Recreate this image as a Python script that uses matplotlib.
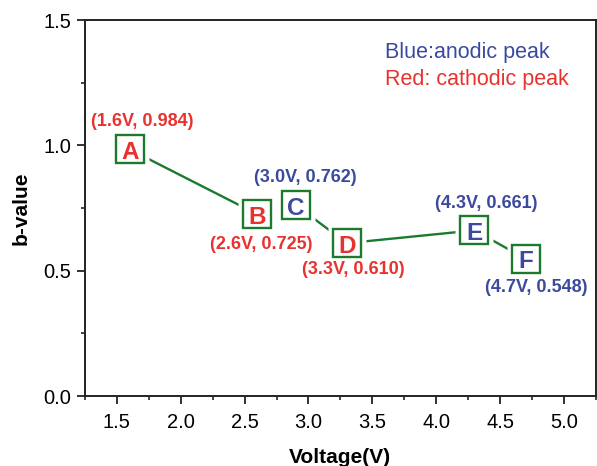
import matplotlib
matplotlib.use("Agg")
import matplotlib.pyplot as plt
from matplotlib.ticker import MultipleLocator

plt.rcParams['font.family'] = ['Liberation Sans', 'DejaVu Sans']

letters = ['A', 'B', 'C', 'D', 'E', 'F']
voltage = [1.6, 2.6, 2.9, 3.3, 4.3, 4.7]   # plotted positions
bvalue = [0.984, 0.725, 0.762, 0.610, 0.661, 0.548]
label_texts = ['(1.6V, 0.984)', '(2.6V, 0.725)', '(3.0V, 0.762)',
               '(3.3V, 0.610)', '(4.3V, 0.661)', '(4.7V, 0.548)']
peak_type = ['cathodic', 'cathodic', 'anodic', 'cathodic', 'anodic', 'anodic']
segments = [[0, 1], [2, 3, 4, 5]]

RED = '#e8322f'
BLUE = '#3b4a9e'
GREEN = '#1c7a2c'
colors = {'cathodic': RED, 'anodic': BLUE}

fig = plt.figure(figsize=(5.97, 4.66), dpi=100)
ax = fig.add_axes([0.1424, 0.150, 0.8556, 0.807])

for seg in segments:
    xs = [voltage[i] for i in seg]
    ys = [bvalue[i] for i in seg]
    ax.plot(xs, ys, color=GREEN, lw=1.7, zorder=2)
# white halo to make gaps between line and boxes
ax.plot(voltage, bvalue, ls='none', marker='s', ms=28, mfc='white', mec='none', zorder=3)
ax.plot(voltage, bvalue, ls='none', marker='s', ms=19.5, mfc='white', mec=GREEN, mew=1.7, zorder=4)

for i, L in enumerate(letters):
    ax.text(voltage[i], bvalue[i] - 0.002, L, color=colors[peak_type[i]], fontsize=17.5,
            fontweight='bold', ha='center', va='center_baseline', zorder=5)

# label offsets in points (dx, dy)
offsets = [(9, 20), (3, -21.5), (7, 19.5), (5, -19), (8.6, 19.5), (8, -21)]
for i, t in enumerate(label_texts):
    ax.annotate(t, (voltage[i], bvalue[i]), xytext=offsets[i], textcoords='offset points',
                ha='center', va='center', color=colors[peak_type[i]], fontsize=13,
                fontweight='bold', zorder=5)

ax.text(0.587, 0.915, 'Blue:anodic peak', color=BLUE, fontsize=15.5, transform=ax.transAxes,
        ha='left', va='center')
ax.text(0.587, 0.843, 'Red: cathodic peak', color=RED, fontsize=15.5, transform=ax.transAxes,
        ha='left', va='center')

ax.set_xlim(1.25, 5.25)
ax.set_ylim(0, 1.5)
ax.xaxis.set_major_locator(MultipleLocator(0.5))
ax.xaxis.set_minor_locator(MultipleLocator(0.25))
ax.yaxis.set_major_locator(MultipleLocator(0.5))
ax.yaxis.set_minor_locator(MultipleLocator(0.25))
ax.tick_params(which='major', direction='out', length=6, width=1.3, labelsize=14.5, color='#222222')
ax.tick_params(axis='x', which='major', pad=6)
ax.tick_params(axis='y', which='major', pad=4)
ax.tick_params(which='minor', direction='out', length=3, width=1.2, color='#222222')
ax.tick_params(top=False, right=False)
for s in ax.spines.values():
    s.set_linewidth(1.4)
    s.set_color('#222222')

ax.set_xlabel('Voltage(V)', fontsize=15, fontweight='bold', labelpad=12)
ax.set_ylabel('b-value', fontsize=15, fontweight='bold', labelpad=9)

fig.savefig('out.png', dpi=100)
